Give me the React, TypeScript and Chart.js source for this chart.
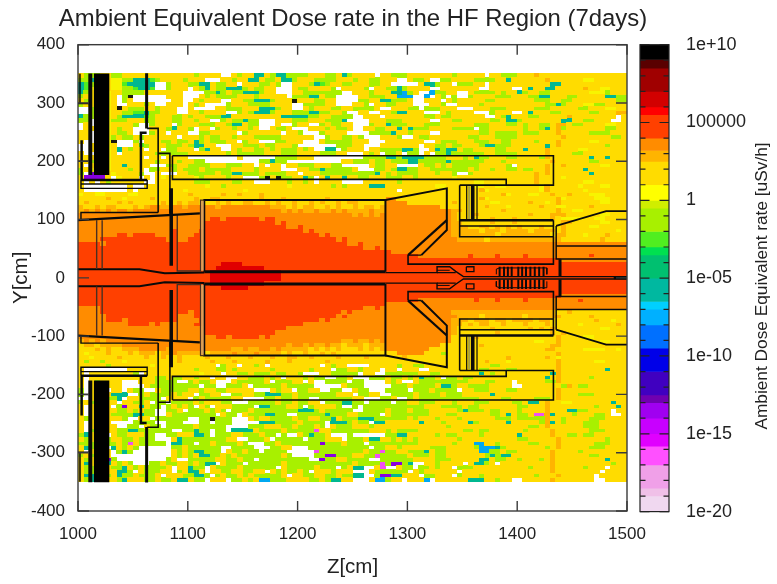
import React, { useEffect, useRef } from "react";
import { Chart, registerables } from "chart.js";

Chart.register(...registerables);

const FONT = '"Liberation Sans", Arial, sans-serif';
const TEXT = "#222222";

const X_MIN = 1000;
const X_MAX = 1500;
const Y_MIN = -400;
const Y_MAX = 400;
const CELL_DZ = 5;
const CELL_DY = 7;
const FIRST_Z = 1002.5;
const FIRST_Y = 346.5;

// one letter per dose-rate band; "." is an empty cell
const LEVEL_COLORS: Record<string, string> = {
  K: "#1a1a10", R: "#e00000", O: "#ff4000", o: "#ff8c00", a: "#ffb400", g: "#ffdc00", y: "#f8f400",
  L: "#a8f000", G: "#50ee20", E: "#00e050", T: "#00b890", C: "#00a8f0", B: "#0070ff", P: "#8800e0", M: "#f050f0",
};

const DOSE_ROWS = [
"gLLLggLLgg gggggggggg gLgggg..gL ggTTgLTTLL LLgggLLgTL gggg.ggLLL ggggggggLg gggg.ggLLL gggagggggg gggggggggg",
"LLTGggyyLL TTTGLggggL ggg...ggLg gTTgLLgTTL gggLLLLggg LggLLggg.. gLLg..LLgg ggLLLLggTg gggggagggg ggyygggggg",
"TGLLggyyGT TTTT..Lggg LLTTgLLgg. gggLLgL..g ggLTGLggLL gggLLgg... ..gTTLgg.L LLgg.ggggg ggggggTTgg gggggggggg",
"TGyyggyyLL GTTG..Lggg .gLTgLLTTT LgLLgg...g LLggggL.gg ggL.ggLLTL gggg..gggg ggg..gggg. .gTggTTggg ggaggyyggg",
"TLggyyggLL LLggggggg. ...LLTLgLL TTTLgg...g gLLLLLLL.. gggLgggTTC Lg..CLLgg. .gLLLLgLgg TLggLLgggg gggyyyLggg",
"Lgg.yyg.LK ......ggg. ..gLgLLLLg ggLggggg.L LLTTgLL... .ggLLLggCC C..C.gL.L. .LggggLLLg ggLLTTgggL LgggggTTLL",
"gLg.yyg.Lg .......gg. .gLggg..gg LLTTTLgggK gggLLgg... .LLggTTLLL g..ggg.gLg ggggLLgggg gggLLLggLL ggggggggLL",
"Lgg.yyg..g ggLg..ggg. gLg....Lgg gLLLLgggg. .LLLLgg... ggL.ggLLgg g...ggL..g gggLgggggg gggggLLTLg ggyyLLgggg",
"..L.yygKgL LLggLggg.. g....ggLLL gggTTTLgg. .gLgggLLgg LLLLg..ggg LL.LLLggg. ..gggLLLgg gggLLLgggg gLLgggyygg",
"..L.yyggLL GGTLLggg.. ggLgggg..L gLTTTLgggL LLTTLLggL. .gg..ggLTT ggg...gLgg gg...Lggg. .gTgggLLgg gggLLgggaa",
"TLL.yygLTT TTGLgggLLg LggLLLTTgg gggggggTTT TTLLggLLLL ..ggg.gggg gggLLgLLgg gggg..gLTg ggLLggggga gggggggg.g",
"LL..yyLLLg ggLLgggLLg gLgg..LgLL TLL...gggL LLgggLLLT. ...gggLLLg gggg..ggLL gggggLLgTT LgggggggTT ggLLggg..g",
".g..yygggg L..Lggg.Lg ggLLLggLTT gLL...g..L gg..LgLLgg ...LggTLLL gggLLLgggg ggLLLgggLL gLggLLgaag LLggggyygg",
".gg.yygLgg ...gggLTgg L.gg.LggLg gLg..gLLg. ..gggLgLLg ..ggLLggTg TLLLggggLL LL.LLggggg gLggLTgaLg ggggggLLgg",
"gg..yygLLg ...Lgg.ggg ..LLggggg. Lgggggg.gg L...Lgggg. ...LLLLTgg Lggg..gggg gggLLgLLLL gLLLgggagg gggLLLLggg",
"gg..yyLgLL gLgggggg.g ggLgLLggLg ggLLLLLggg ggg..LggLL gL...gggL. .gLLgggggg gLLgggLLLL ggggggggag gggggggLLg",
"g...yyK... L.gggLLgLL gTLgLLLgg. Lgg...LLgg g...gLLLLL ggg...gggg ggg..gLLLg ggLLLggLLg gggLgggagg gggyyggggg",
"..gPyyg... gGLgggLLLg LTTgg...gg LLLgLLgggL .......LLL gg...ggggg gg.ggLLgLL gggLTTLLLg gggggTgagg ggggggLggg",
"..g.yygTgL gg.gg.LLgg g.LTgg..gL ggLLgLgLLL gLg..TT.Lg gg.ggLLLLT TL..gTLTTg LLggggLLgg gTgggagggg gyyggggggg",
"g...yyg.gg ggggLLLLLL gggggggLgL LLLLgggLLL ggggLLLgg. ..gLg.LLg. LL.g.LLTLL LLLLggLLLL gggggagggg LLgggggggg",
"ggg.yygggg gg.gg.gggg .........g ......LLLL ggg....... ..LLLLTTLT TTTLLLLggg LgTLLgggLL ggggLagggg gggTggTggg",
"ggLgyygggg ggggLgggLg gLL....... ...LLTLL.. ........gg LLLgLLgLLL TTLLLLLTLL LLLLgggLgg ggggggaggg gggLLggggg",
"g.g.yyggTg ggg...LLgg LLLLgggLLL gg.g.gg.gg LLLgggLL.. ...gLLgg.. ..gLLgLgLL LLLgggggL. gggggaggag gggggyyggg",
"LgyyyygggL gg.LLggLgL LLgLLLLLgg ggLgggg... ggLLTLLLLL g...LLgLTT LLggLLLLLL LgLggLggLL gLLggagggg ggTggggggg",
"L.PPPgyggg gL..g...gg LLLLLgLLTT LLLgLLLLgg .gggLLLLLL LLLLTgLgLL LLgggLggL. .Lgggggggg gggagagggg gggTgggggg",
"gPPPPg.ygg g.g.gygggg gyLggggLgg ...LKgKLLg gTL.gTggTg gLLgggLLLg gLggggggyg gggggggggg gggaggggyg gggggggggg",
"g.g.gLgggg gg..gggggg gLLLggggLL gg...gggLg gLg.gggg.. ..ggggggLg gggggggggg ggyygggggg gggagggggg ggyygggggg",
"g........g ..gggggggg gggyggLggg ggggggggyg ggggggLgLg gggTTTgggg gggggyyggg ggyyggyygg ggggyagggg gygggyyggg",
"g........g .ggggggggy gggggggggg yggggggggg gggggggggg gggggggg.g gggggggggg gggayggggg ggggyagggg ggyggggggg",
"yggyyggggy yggggggggg agggggagga gggagggggg gggggggggg gggggggggg gggggggggg gggggggayg ggyyggagga gggyyygggg",
"gggggaggyg gggagggggg gaggaagggg gggagggagg gggggagggg ggggggoogg gggggggggg gggayggggg gggggggayg ggggyyyggg",
"gagggggaga gggggaggag aagggagagg aaggagagga ggagaggaga agggggoooo ggggggggag gggggyyggg ggaggygagg gggggyyggg",
"aggagaaggg agaooaaooa oooooaoooo oooooaaaga gaaggagagg agaagaoooo oooooogggg ggggagggyg ggggaggyyg gggagggggg",
"aoaoaoaooa oooooooooo oooooooooo oooooooaoa oaaoaaoaoa aaaoaaoooo ooooooooaa gggggggagg gggggggagg yygggggggg",
"oooooooooo oooooooooo oooooooooo oooooooooo oooooooooo aoaoaooooo ooooooooag ggaggggggg ggagggaaag gggggyyggg",
"oooooooooo oooooooooo ooooOOoOOO OOOoOOoooo oooooooooo oooooooooo ooooooooag gggggaggga ggggggagyy yyggyygggg",
"oooooooooo oooooooooo oooOOOOOOO OOOOOOoOoo oooooooooo oooooooooo ooooooooaa gggggaggga ggggggggaa gggggyyggg",
"oooooooooo oooooooooo oooOOOOOOO OOOOOOOOoo Oooooooooo oooooooooo ooooooooaa aggaagagag agggagggag gggyyggggg",
"oooooooooo oooooooOoo ooOOOOOOOO OOOOOOOOOO OoOooooooo oooooooooo ooooooooaa aaagaaagaa aagaaaagag ggggggggyg",
"oooooooOOo OOOOoooOoo oOOOOOOOOO OOOOOOOOOO OOOOoOoooo oooooooooo ooooooooaa aaaaaagaaa aaaaaagaag ggygggaggg",
"ooooOOOOOO OOOOOOoOoo OOOOOOOOOO OOOOOOOOOO OOOOOOOoOo oooooooooo oooooooooa aaaagaaaaa aaaaaaaagg gggggagggg",
"OOOOoOOOOO OOOOOOOOOO OOOOOOOOOO OOOOOOOOOO OOOOOOOOOo oOoooooooo oooooooooo oooooooooo oooooooooo oooooooooo",
"OOOOOOOOOO OOOOOOOOOO OOOOOOOOOO OOOOOOOOOO OOOOOOOOOO OOooOooooo oooooooooo oooooooooo oooooooooo oooooooooo",
"OOOOOOOOOO OOOOOOOOOO OOOOOOOOOO OOOOOOOOOO OOOOOOOOOO OOOOOOOooo oooooooooo oooooooooo oooooooooo oooooooooo",
"OOOOOOOOOO OOOOOOOOOO OOOOOOOOOO OOOOOOOOOO OOOOOOOOOO OOOOOOOOOO OOoooooooo oOooooOooo oOoooooooo oooOoooooo",
"OOOOOOOOOO OOOOOOOOOO OOOOOOOOOO OOOOOOOOOO OOOOOOOOOO OOOOOOOOOO OOOOOOOOOO OOOOOOOOOO OOOOOOOOoo oooooooooo",
"OOOOOOOOOO OOOOOOOOOO OOOOOORRRR OOOOOOOOOO OOOOOOOOOO OOOOOOOOOO OOOOOOOOOO OOOOOOOOOO OOOOOOOOOO OOOOOOOOOO",
"OOOOOOOOOO OOOOOOOOOO OOOOORRRRR RRRROOOOOO OOOOOOOOOO OOOOOOOOOO OOOOOOOOOO OOOOOOOOOO OOOOOOOOOO OOOOOOOOOO",
"OOOOOOOOOO OOOOOOOOOO OOOORRRRRR RRRRRRROOO OOOOOOOOOO OOOOOOOOOO OOOOOOOOOO OOOOOOOOOO OOOOOOOOOO OOOOOOOOOO",
"OOOOOOOOOO OOOOOOOOOO OOOORRRRRR RRRRRRROOO OOOOOOOOOO OOOOOOOOOO OOOOOOOOOO OOOOOOOOOO OOOOOOOOOO OOOOOOOOOO",
"OOOOOOOOOO OOOOOOOOOO OOOORRRRRR RRRRRRROOO OOOOOOOOOO OOOOOOOOOO OOOOOOOOOO OOOOOOOOOO OOOOOOOOOO OOOOOOOOOO",
"OOOOOOOOOO OOOOOOOOOO OOOORRRRRR RRRROOOOOO OOOOOOOOOO OOOOOOOOOO OOOOOOOOOO OOOOOOOOOO OOOOOOOOOO OOOOOOOOOO",
"OOOOOOOOOO OOOOOOOOOO OOOOOORRRR ROOOOOOOOO OOOOOOOOOO OOOOOOOOOO OOOOOOOOOO OOOOOOOOOO OOOOOOOOOO OOOOOOOOOO",
"OOOOOOOOOO OOOOOOOOOO OOOOOOOOOO OOOOOOOOOO OOOOOOOOOO OOOOOOOOOO OOOOOOOOOO OOOOOOOOOO OOOOOOOOOO OOOOOOOOOO",
"OOOOOOOOOO OOOOOOOOOO OOOOOOOOOO OOOOOOOOOO OOOOOOOOOO OOOOOOOOOO OOOOOOOOOO OOOOOOOOOO OOOOOOOOoo oooooooooo",
"OOOOOOOOOO OOOOOOOOOO OOOOOOOOOO OOOOOOOOOO OOOOOOOOOO OOOOOOOOOO OOoooooooo ooOoooOooo oOoooooooo oOoooooooo",
"OOOOOOOOOO OOOOOOOOOO OOOOOOOOOO OOOOOOOOOO OOOOOOOOOO OOOOOOoooo oooooooooo oooooooooo oooooooooo oooooooooo",
"ooooOOOOOO OOOOOOOOOO OOOOOOOOOO OOOOOOOOOO OOOOOOOOOO OOooOooooo oooooooooo oooooooooo oooooooooo oooooooooo",
"ooooOOOOOO OOOOOOOOOO oOOOOOOOOO OOOOOOOOOO OOOOOOOOoO oooooooooo ooooooooaa aaaaaaaaaa aaaaaaagga gggggggggg",
"oooooOOOOO OOOOOOOOoo oOOOOOOOOO OOOOOOOOOO OOOOOOOoOo oooooooooo oooooooooa aaagaaaaaa agaaaaaagg gggagggggg",
"oooooOOOoO OOOOOOOOoo ooOOOOOOOO OOOOOOOOOO OOOOoOoooo oooooooooo ooooooooaa agaaagaaga aaagaagggg ggggaggygg",
"oooooooooO OOOoOooooo oOOOOOOOOO OOOOOOOOOO Oooooooooo oooooooooo ooooooooaa gagaaggagg gagggagggg gyggggggag",
"oooooooooo oooooooooo oooOOOOOOO OOOOOOOOoo oooooooooo oooooooooo ooooooooag gggggagggg ggagagaggg gggggyyggg",
"oooooooooo oooooooooo oooOOOOOOO OOOOOOoooo oooooooooo oooooooooo ooooooooag ggggggaggg ggggggagag gggggggggg",
"oooooooooo oooooooooo oooooOOoOO OOOoOooooo oooooooooo oooooooooo oooooooogg ggaggggggg gggggggagg ggyygggggg",
"aoaoaooooo oooooooooo oooooooooo oooooooooo ooooooooaa oaaoaooooo oooooooogg gggggggggg gggyyggagg gggggyyggg",
"gaagaaaaoo oooooooooo oooooooooo ooooooooao oaoaaoaaga aagaaaoooo oooooogggg gggagggggg ggggggaagg gggggggggg",
"gggagaggaa aoooooaooo ooooooooaa oaaooaoaaa aagagagagg gagagaoooo oooogggggg gggggggggg gggggaaggg ggyyyyggyg",
"gygggaggga gaaagaaoaa aaagaaaaoa aaoaaaagag gaggagaggg ggggggggoo ooogggLggg gggggggggg gggggggagg gggggggggg",
"ggyggggagg ggaggaggag gggagggagg gagggaggaa ggaggggagg ggagggggga gggggggggg ggggggggag gggggagygg gggggggggg",
"gLggLgggyg ggggggggag ggggagggag ggggagggag gggggagggg gggggggggg gggggggggg ggggagggyg gggggggagg ggggyygggg",
"gggggLgggg gggygggggg ggggg.Lgg. ggLg.ggggg gggg.gLgg. ...gggggLg gLLggggggg gggggLLggg gggggggagg gggggggggg",
"g........g gggggggggg gLgggLLgLg gggggLgggg ggLggg.LLg gLggg.gg.g gg..gggggg gggLLgggLL gggggggagg ggggggTggg",
"g.gggggggg L.gggggggg ggyggg.ggL LgLLLgLLgg L...ggLLLL L.gg..LLLL LLggLLgggg gggTgLgggg ggggggTagg gggggggggg",
"g.gggggggg ggggLLgLLg gLgg.gg..g gLLLgLg.gg gLgLL..LLg ...LLLgLLg LgTLLg.LLg LLgggggggg gggggTgagg gggLgggggg",
"g.gLgggg.. .gggLLLL.. LgLLg...gL LLLLg.LLLg g.g..LLLL. LL....gLg. .gLLLLLLLL LgggLLggg. gggggLLagg gggggggggg",
"g.gg.ggg.. ..gLLLLLLL LL.LL..LLL g.LLLLLgLL LLL.....gL LL.....LLL gLLLLgTTLg gLLLLgggg. .gggggggLa gLLggggggg",
"L.ggg.gg.g LL..gLLLLL ggLggLLggg gg...gLgg. LLgg..LL.. gLL...LLLL .LLLgLLLL. ggLLLgggLL gggggggagg gggggggggg",
"L.gPggTTT. .LgLLLLgLg g.LLgg..LL ggLLTTTLLg LLLLLLLggg .LLgg..LLL LgLLLLgLLL gggggTgggg gggggggagg gLLLgggggg",
"..gggLLT.g gLLLL.gggg .LgLLLLLgg ....LLgLLg LL..LLLLLL gg...LLg.. LgLLLLLLLL LLLggggLLg gggLLLgagg gggggggggg",
"LgLyygg.gg LLg.LL.LLL LgLgggLL.. .LLLLLgLLg LLgg.LLLTT LL.LLLL.LL ggLLLgggLg ggLLLggggL LgTTgaggyy gggggggTgg",
"g.gyyg.LPg gTgLL.LgLg L.gL.gggLL LL.TTLLLgg L.LggggL.. L.LLLLLLLL LLLgggLLLL gLLggggggg LLgggagggg ggggLgggTg",
"g.gyyggLLg LgLL..LLg. LLLgLgL.LL LgLLLLLLLL TTTLgLLLLL ..LLLLgLLL gLLLgggggL TLLLgLLggg LggggagggT TLLgggg.gg",
"g.gyygLLLL TTLL..gLLL LLLLL.gLL. gLLLTTLL.. LLLLLTLLLg gLLLL.gLLL LLLLgggLLg gggggLLgTg LLgMMaTggg LgggLLg..g",
"gLgyygggL. .gg.LLLLLL ..LLKLLL.. .gLggLLLLg LLggLLTgLL LTTTLLLLLL gLgggLgggL ggggggLLLg LLLLLaggLg gggLLLgggg",
"g.gyyg.... LLLL..LLL. ..LL.LLL.. ...TTTLLLL gLLLL.TTTL gLL.TTgggg ggTgggLggg gTLgggggTg ggggLaTgLg ggLLLggggg",
"g.gyygg..L L.gLL.LLLL LgLLLLL... .LLLgggLLg LLLgL.gLLL gggLgggggg gggggggLgg gggggggggg ggLLgagggg ggLLLggggg",
"g.LyyggLLT TLLLLLL..L LTLL.LL.TT TTgLLLLgLL LLLMggLLLL LLLgggLgLL LLgggggggg LLgLLggggg gLggggaggg gggLLLgggg",
"LTgyy.gLLg ggLL..LLgg gTTL.LLLgg LLLgLL.L.. gLTLLg...L ......LLTT gggggLgLLg gggLgggggg TgggggaggL LgLLgggggg",
"gLgyyLggLL gLLL...gTL LLLLLLLgg. .LLLg.LLLL L.LLLggg.L LLgTTggLgL gLgggggggL gggggggggg LLgggggagg ggggggLggg",
"LLLyyLLgLM gLLLLL.TTL L.LLgLLLLg L...LLgLLL LLLLPLLLgL LL.LLLLLLL LLggggggLg ggCCggLggg ggLLgggagg ggggLLLggg",
"gTLyy.TgLg L......LLg LLLLLL..LL LL...LLgg. ..LLLLLLLL LLL.LLggLg ggggLLLggg ggLCCCTLgg gggggLgagg gggLLLgggg",
"g.gyyg.LTL .......gLg LTTLLL.gLL gLL.LLLL.. ...MLLLLLL LLgLLMLLgg LLLTgLLggg gggCCLLgLL ggggggaggg gLgggggggg",
"LgLyyg.... .......gLg LgTTLLgLgL LLLLLLLgL. ...LLPPLLL ggLLMLLLLL gLLLgLLggg ggggLTLTTg ggggggaggg gggLLggggg",
"gLgyyPL... ......Lg.. LLLLLggLLg LL.LLLLLLL LL..PLLggL LLL..LLLLL LggggLLLgg gggTTgLLgg LgggLgaggg ggggggTggg",
"gTgyyTgLgL ...LLgLLgg LgLTT.gLLL .LLLLLLgLL LLLLLLLLLL gLLLLMLPPL T..ggLgggg .gTTLg.ggg ggggggaggg gggggggLgg",
"gLLyygLLTg LgLLLLg.gg TLL.gLLLLg LLLLLL.gLL LLLgLLL.Lg TT..gM..gL L.LLgLgg.L LLgggggggg ggLgggaggg ggLggg.ggg",
"gLLyyggTTL .gLLLgg.Lg TTg.ggLLgg LLgg.gLgLL gL.gggLggg ...gLLLLLL .gLgggggg. gggggggggg ggggggaggg ggggg.gggg",
"gTTyyLgTLL gLLLg.gggL LTTL.LgLLg LgLLLLLg.g gLLggLLgLL TT..LPPTTg gg.LLggg.L gggLgggggg gggLgggagg gggg.ggggg",
"gLTyyggLTg ggLLgLLgTT gLL.ggg.LL gLgCCLLLgg ggLLgLTTgg ...gCCLgg. gggC.ggggg gTTTggLgg. .gggggaggg gggg..gggg",
];

// colour bar bands: exponent of the upper edge, exponent of the lower edge, colour
const BAR_TOPS = [10, 9.05, 8.5, 7, 6, 5.5, 4, 3.2, 2.5, 1, 0, -0.5, -2, -3, -3.5, -5, -6.5, -7, -8, -9.5, -11, -12.5, -13, -14, -15, -15.8, -17, -18.5, -19];
const BAR_BOTTOMS = [9.05, 8.5, 7, 6, 5.5, 4, 3.2, 2.5, 1, 0, -0.5, -2, -3, -3.5, -5, -6.5, -7, -8, -9.5, -11, -12.5, -13, -14, -15, -15.8, -17, -18.5, -19, -20];
const BAR_COLORS = ["#000000", "#5a0000", "#a00000", "#d20000", "#ff0000", "#ff4000", "#ff8c00", "#ffb400", "#ffdc00", "#ffff00", "#d0ee00", "#a8f000", "#50ee20", "#00e050", "#00c070", "#00b8a0", "#00d0ff", "#00b0ff", "#0070ff", "#0000e8", "#4000c0", "#7000b0", "#a000f0", "#c800ff", "#e000ff", "#ff50ff", "#f0a0e8", "#f0c0e8", "#f0d8f0"];
const BAR_MAJOR = [10, 5, 0, -5, -10, -15, -20];
const BAR_MINOR = [9, 8, 7, 6, 4, 3, 2, 1, -1, -2, -3, -4, -6, -7, -8, -9, -11, -12, -13, -14, -16, -17, -18, -19];
const BAR_LABELS: Record<string, string> = { "10": "1e+10", "5": "100000", "0": "1", "-5": "1e-05", "-10": "1e-10", "-15": "1e-15", "-20": "1e-20" };

// detector outlines: upper half, [z, y] in cm; each is also drawn at -y
type Outline = { pts: number[][]; w: number; c?: string };
const OUTLINES: Outline[] = [
  { pts: [[1021.5, 350.7], [1021.5, 176.3]], w: 15.4, c: "#000000" },
  { pts: [[1011.2, 350.7], [1011.2, 176.3]], w: 4 },
  { pts: [[1001.8, 350], [1001.8, 299]], w: 1.5 },
  { pts: [[1000, 299], [1010, 299]], w: 1.5 },
  { pts: [[1000, 200], [1010, 200]], w: 1.5 },
  { pts: [[1003.3, 236], [1003.3, 168]], w: 2.5 },
  { pts: [[1002.7, 168], [1063, 168]], w: 2.5 },
  { pts: [[1002.7, 161], [1063, 161]], w: 1.3 },
  { pts: [[1002.7, 168], [1002.7, 153.5], [1063, 153.5], [1063, 168]], w: 1.4 },
  { pts: [[1062.5, 351], [1062.5, 256]], w: 3 },
  { pts: [[1057.3, 168], [1057.3, 249], [1062.5, 249]], w: 2.5 },
  { pts: [[1063, 256.4], [1073, 256.4], [1073, 112]], w: 1.6 },
  { pts: [[1002.7, 99], [1002.7, 112], [1073, 112]], w: 1.4 },
  { pts: [[1073, 213.5], [1083.7, 213.5], [1083.7, 110]], w: 1.6 },
  { pts: [[1084.9, 153.5], [1084.9, 20.8]], w: 3.5 },
  { pts: [[1000, 99], [1111, 110.6]], w: 2.2 },
  { pts: [[1017, 99], [1017, 15]], w: 1.4, c: "#4a3020" },
  { pts: [[1022, 99], [1022, 15]], w: 1.4, c: "#4a3020" },
  { pts: [[1090.4, 108], [1090.4, 11.7], [1111.6, 11.7]], w: 1.4, c: "#4a3020" },
  { pts: [[1113.3, 12], [1113.3, 132]], w: 2.5, c: "#d9a05b" },
  { pts: [[1111.6, 10.5], [1111.6, 133.4], [1115, 133.4]], w: 1.3, c: "#4a3020" },
  { pts: [[1115, 10.5], [1115, 133.4], [1280, 133.4], [1280, 10.5]], w: 2 },
  { pts: [[1000, 14.6], [1056, 14.6], [1079, 7.7], [1115, 9]], w: 2 },
  { pts: [[1115, 10.5], [1280, 10.5]], w: 3 },
  { pts: [[1280, 133.4], [1335.9, 153.5], [1335.9, 82], [1312.7, 39]], w: 2 },
  { pts: [[1335.9, 99], [1300.6, 39]], w: 2.2 },
  { pts: [[1300.6, 39], [1300.6, 23.6], [1433, 23.6], [1433, 99]], w: 1.6 },
  { pts: [[1300.6, 39], [1312.7, 39]], w: 1.4 },
  { pts: [[1086, 209.5], [1433, 209.5], [1433, 159], [1347.6, 159]], w: 1.6 },
  { pts: [[1086, 209.5], [1086, 169], [1390, 169], [1390, 159]], w: 1.6 },
  { pts: [[1347.6, 159], [1347.6, 70.5], [1433, 70.5]], w: 1.6 },
  { pts: [[1347.6, 89], [1433, 89]], w: 1.4 },
  { pts: [[1347.6, 99], [1433, 99]], w: 2.5 },
  { pts: [[1354, 159], [1354, 99]], w: 1.2 },
  { pts: [[1356.2, 157], [1356.2, 100]], w: 2, c: "#a8a040" },
  { pts: [[1359.5, 159], [1359.5, 99]], w: 3.6 },
  { pts: [[1363.4, 159], [1363.4, 99]], w: 1.2 },
  { pts: [[1435.5, 89], [1481, 114.6], [1500, 114.6]], w: 1.8 },
  { pts: [[1435.5, 89], [1435.5, 32.2], [1500, 32.2]], w: 1.5 },
  { pts: [[1435.5, 54.5], [1500, 54.5]], w: 1.5 },
  { pts: [[1439, 32], [1439, 3]], w: 3 },
  { pts: [[1280, 9], [1327, 9], [1327, 19], [1338.5, 19], [1344, 11], [1351, 2], [1500, 2]], w: 1.4 },
  { pts: [[1327, 9], [1344, 9]], w: 1.4 },
  { pts: [[1327, 13], [1338.5, 13]], w: 1 },
  { pts: [[1353.7, 19], [1360.6, 19], [1360.6, 10.5], [1353.7, 10.5], [1353.7, 19]], w: 1.3 },
  { pts: [[1381, 6], [1381, 15], [1384, 17], [1427, 17], [1427, 6]], w: 1 },
  { pts: [[1384, 3], [1384, 19]], w: 2 }, { pts: [[1388, 3], [1388, 19]], w: 2 },
  { pts: [[1391.5, 3], [1391.5, 19]], w: 2 }, { pts: [[1395, 3], [1395, 19]], w: 2 },
  { pts: [[1401, 3], [1401, 19]], w: 2 }, { pts: [[1404.5, 3], [1404.5, 19]], w: 2 },
  { pts: [[1408, 3], [1408, 19]], w: 2 }, { pts: [[1412, 3], [1412, 19]], w: 2 },
  { pts: [[1416, 3], [1416, 19]], w: 2 }, { pts: [[1420, 3], [1420, 19]], w: 2 },
  { pts: [[1424, 3], [1424, 19]], w: 2 },
  { pts: [[1488, 0.5], [1500, 0.5]], w: 2 },
];

function cellStamp(color: string) {
  const c = document.createElement("canvas");
  c.width = 6;
  c.height = 5;
  const g = c.getContext("2d")!;
  g.fillStyle = color;
  g.fillRect(0, 0, 6, 5);
  return c;
}

function buildCellDatasets() {
  const byLevel: Record<string, { x: number; y: number }[]> = {};
  DOSE_ROWS.forEach((row, r) => {
    row.replace(/ /g, "").split("").forEach((ch, c) => {
      if (ch === "." || !LEVEL_COLORS[ch] || c > 99) return;
      (byLevel[ch] = byLevel[ch] || []).push({ x: FIRST_Z + CELL_DZ * c, y: FIRST_Y - CELL_DY * r });
    });
  });
  return Object.keys(byLevel).map((k) => ({
    type: "scatter" as const,
    label: k,
    data: byLevel[k],
    pointStyle: cellStamp(LEVEL_COLORS[k]),
    pointRadius: 3,
    pointHoverRadius: 3,
    showLine: false,
    order: 5,
  }));
}

function buildOutlineDatasets() {
  const out: any[] = [];
  OUTLINES.forEach((o, i) => {
    [1, -1].forEach((s) => {
      out.push({
        type: "scatter",
        label: `outline${i}${s}`,
        data: o.pts.map((p) => ({ x: p[0], y: p[1] * s })),
        showLine: true,
        pointRadius: 0,
        borderColor: o.c || "#0a0a0a",
        borderWidth: o.w,
        tension: 0,
        order: 1,
      });
    });
  });
  return out;
}

const frameTicks = {
  id: "frameTicks",
  afterDraw(chart: any) {
    const { ctx, chartArea: a, scales } = chart;
    ctx.save();
    ctx.strokeStyle = "#3a3a3a";
    ctx.lineWidth = 1.4;
    ctx.strokeRect(a.left, a.top, a.right - a.left, a.bottom - a.top);
    ctx.beginPath();
    scales.x.ticks.forEach((t: any) => {
      const p = scales.x.getPixelForValue(t.value);
      ctx.moveTo(p, a.top);
      ctx.lineTo(p, a.top + 10);
      ctx.moveTo(p, a.bottom);
      ctx.lineTo(p, a.bottom - 10);
    });
    scales.y.ticks.forEach((t: any) => {
      const p = scales.y.getPixelForValue(t.value);
      ctx.moveTo(a.left, p);
      ctx.lineTo(a.left + 11, p);
      ctx.moveTo(a.right, p);
      ctx.lineTo(a.right - 11, p);
    });
    ctx.stroke();
    ctx.restore();
  },
};

const barFrame = {
  id: "barFrame",
  afterDraw(chart: any) {
    const { ctx, chartArea: a, scales } = chart;
    ctx.save();
    ctx.strokeStyle = "#222222";
    ctx.lineWidth = 1.2;
    ctx.strokeRect(a.left, a.top, a.right - a.left, a.bottom - a.top);
    ctx.beginPath();
    const mark = (v: number, len: number) => {
      const p = scales.y.getPixelForValue(v);
      ctx.moveTo(a.left, p);
      ctx.lineTo(a.left + len, p);
      ctx.moveTo(a.right, p);
      ctx.lineTo(a.right - len, p);
    };
    BAR_MAJOR.forEach((v) => mark(v, 9.5));
    BAR_MINOR.forEach((v) => mark(v, 5.5));
    ctx.stroke();
    ctx.fillStyle = TEXT;
    ctx.font = `17.3px ${FONT}`;
    ctx.textAlign = "center";
    ctx.textBaseline = "middle";
    ctx.translate(132, 286);
    ctx.rotate(-Math.PI / 2);
    ctx.fillText("Ambient Dose Equivalent rate [uSv/h]", 0, 0);
    ctx.restore();
  },
};

export default function App() {
  const mainRef = useRef<HTMLCanvasElement>(null);
  const barRef = useRef<HTMLCanvasElement>(null);

  useEffect(() => {
    const main = new Chart(mainRef.current!, {
      type: "scatter",
      data: { datasets: [...buildOutlineDatasets(), ...buildCellDatasets()] },
      options: {
        responsive: false,
        animation: false,
        events: [],
        plugins: {
          legend: { display: false },
          tooltip: { enabled: false },
          title: {
            display: true,
            text: "Ambient Equivalent Dose rate in the HF Region (7days)",
            color: TEXT,
            font: { family: FONT, size: 23.9, weight: "normal" },
            padding: { top: 5, bottom: 11 },
          },
        },
        scales: {
          x: {
            type: "linear",
            min: X_MIN,
            max: X_MAX,
            grid: { display: false, drawTicks: false },
            border: { display: false },
            ticks: { stepSize: 100, color: TEXT, padding: 13, maxRotation: 0, font: { family: FONT, size: 17 }, callback: (v: any) => String(v) },
            title: { display: true, text: "Z[cm]", color: TEXT, font: { family: FONT, size: 20.5 }, padding: { top: 0, bottom: 4 } },
            afterFit: (s: any) => { s.height = 73; },
          },
          y: {
            type: "linear",
            min: Y_MIN,
            max: Y_MAX,
            grid: { display: false, drawTicks: false },
            border: { display: false },
            ticks: { stepSize: 100, color: TEXT, padding: 13, font: { family: FONT, size: 17 } },
            title: { display: true, text: "Y[cm]", color: TEXT, font: { family: FONT, size: 20.5 }, padding: { top: 9, bottom: 0 } },
            afterFit: (s: any) => { s.width = 78; },
          },
          spacer: {
            type: "linear",
            position: "right",
            grid: { display: false, drawTicks: false },
            border: { display: false },
            ticks: { display: false },
            afterFit: (s: any) => { s.width = 79; },
          },
        },
      } as any,
      plugins: [frameTicks],
    });

    const bar = new Chart(barRef.current!, {
      type: "bar",
      data: {
        labels: ["dose"],
        datasets: BAR_COLORS.map((color, i) => ({
          label: `band${i}`,
          data: [[BAR_BOTTOMS[i], BAR_TOPS[i]]] as any,
          backgroundColor: color,
          borderWidth: 0,
          barPercentage: 1,
          categoryPercentage: 1,
          grouped: false,
        })),
      },
      options: {
        responsive: false,
        animation: false,
        events: [],
        layout: { padding: { left: 10, top: 44.7, bottom: 72.4, right: 0 } },
        plugins: { legend: { display: false }, tooltip: { enabled: false }, title: { display: false } },
        scales: {
          x: { display: false },
          y: {
            type: "linear",
            position: "right",
            min: -20,
            max: 10,
            grid: { display: false, drawTicks: false },
            border: { display: false },
            ticks: {
              stepSize: 5,
              color: TEXT,
              padding: 17,
              font: { family: FONT, size: 18 },
              callback: (v: any) => BAR_LABELS[String(v)] ?? "",
            },
            afterFit: (s: any) => { s.width = 108; },
          },
        },
      } as any,
      plugins: [barFrame],
    });

    return () => {
      main.destroy();
      bar.destroy();
    };
  }, []);

  const soft = { position: "absolute" as const, top: 0, display: "block", filter: "blur(0.45px)" };
  return (
    <div style={{ position: "absolute", left: 0, top: 0, width: 777, height: 584, overflow: "hidden", background: "#ffffff" }}>
      <canvas ref={mainRef} width={706} height={584} style={{ ...soft, left: 0 }} />
      <canvas ref={barRef} width={147} height={584} style={{ ...soft, left: 630 }} />
    </div>
  );
}
